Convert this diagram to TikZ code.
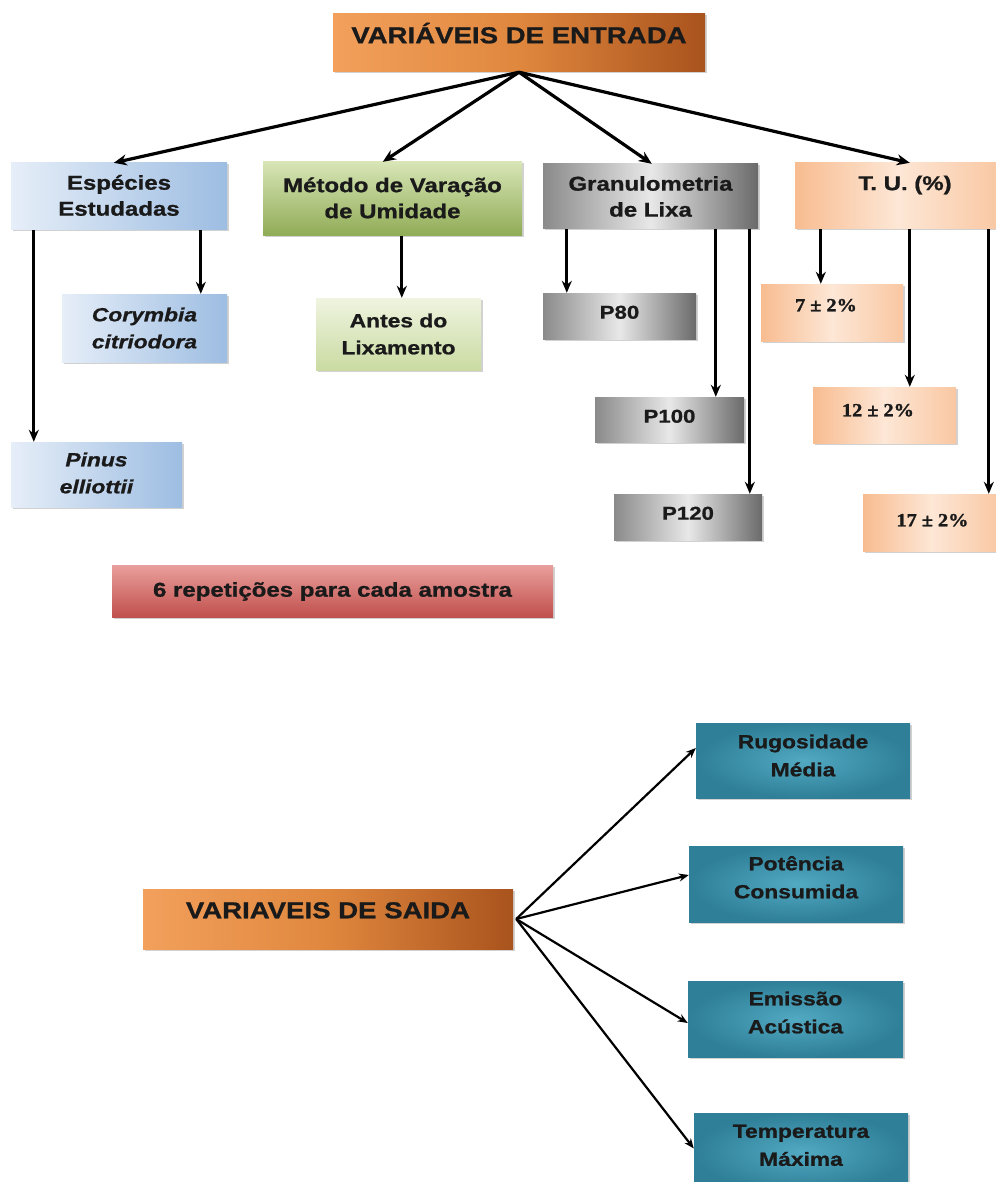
\documentclass[tikz,border=0pt]{standalone}
\usepackage{fontspec}
\setmainfont{Liberation Sans}[FakeStretch=1.2, BoldFeatures={FakeBold=1}, BoldItalicFeatures={FakeBold=1}]
\newfontfamily\pmfont{Liberation Serif}[FakeStretch=1.1, BoldFeatures={FakeBold=1.5}]
\usetikzlibrary{arrows.meta,shadows}
\definecolor{orL}{HTML}{F2A05C}
\definecolor{orM}{HTML}{E0873E}
\definecolor{orR}{HTML}{A9531D}
\definecolor{blL}{HTML}{E6EEF8}
\definecolor{blR}{HTML}{9DBDE2}
\definecolor{grT}{HTML}{D8E5B6}
\definecolor{grB}{HTML}{8FAB55}
\definecolor{glT}{HTML}{EFF4E0}
\definecolor{glB}{HTML}{CADBA2}
\definecolor{gyL}{HTML}{8A8A8A}
\definecolor{gyM}{HTML}{E8E8E8}
\definecolor{gyR}{HTML}{6A6A6A}
\definecolor{pkL}{HTML}{F8BC90}
\definecolor{pkM}{HTML}{FDE7D6}
\definecolor{pkR}{HTML}{F9C7A2}
\definecolor{rdT}{HTML}{E99F9C}
\definecolor{rdB}{HTML}{C0504D}
\definecolor{tlI}{HTML}{52A9C2}
\definecolor{tlO}{HTML}{2E7F97}
\definecolor{txt}{HTML}{1A1A1A}
\newcommand\myfTitle{\fontsize{23}{28}\selectfont\bfseries}
\newcommand\myfCat{\fontsize{20}{26}\selectfont\bfseries}
\newcommand\myfSub{\fontsize{19}{27}\selectfont\bfseries}
\newcommand\myfSubIt{\fontsize{19}{27}\selectfont\bfseries\itshape}
\newcommand\myfP{\fontsize{18.5}{24}\selectfont\bfseries}
\newcommand\myfPm{\fontsize{18.5}{22}\selectfont\pmfont\bfseries}
\newcommand\myfOut{\fontsize{19}{28}\selectfont\bfseries}
\newcommand\myfRep{\fontsize{20}{24}\selectfont\bfseries}
\begin{document}
\begin{tikzpicture}[x=1pt,y=-1pt,
  bx/.style={rectangle, inner sep=0pt, align=center, text=txt,
    drop shadow={shadow xshift=1.5pt, shadow yshift=-1.5pt, fill=black, opacity=0.18}},
  orbox/.style={bx, left color=orL, right color=orR, middle color=orM},
  bluebox/.style={bx, left color=blL, right color=blR},
  greenbox/.style={bx, top color=grT, bottom color=grB},
  greenlight/.style={bx, top color=glT, bottom color=glB},
  metalbox/.style={bx, left color=gyL, right color=gyR, middle color=gyM},
  peachbox/.style={bx, left color=pkL, right color=pkR, middle color=pkM},
  repbox/.style={bx, top color=rdT, bottom color=rdB},
  tealbox/.style={bx, inner color=tlI, outer color=tlO},
  arrbig/.style={draw=black, line width=3.2pt, -{Stealth[length=13pt,width=11pt]}},
  arr/.style={draw=black, line width=2.8pt, -{Stealth[length=12pt,width=10pt]}},
  arrsm/.style={draw=black, line width=2.2pt, -{Stealth[length=10pt,width=8pt]}}
]
\useasboundingbox[fill=white] (0,0) rectangle (995,1182);

% title
\node[orbox, minimum width=372pt, minimum height=58pt, font=\myfTitle,
  text height=16.5pt, text depth=16pt] (tit) at (519,43) {VARIÁVEIS DE ENTRADA};

% categories
\node[bluebox, minimum width=216pt, minimum height=67pt, font=\myfCat,
  text height=40.3pt, text depth=2pt] (esp) at (119,196.5) {Espécies\\Estudadas};
\node[greenbox, minimum width=259pt, minimum height=74pt, font=\myfCat,
  text height=40.3pt, text depth=2pt] (met) at (392.5,199) {Método de Varação\\de Umidade};
\node[metalbox, minimum width=215pt, minimum height=65pt, font=\myfCat,
  text height=40.3pt, text depth=0pt] (gra) at (650.5,196.5) {Granulometria\\de Lixa};
\node[peachbox, minimum width=206pt, minimum height=66pt, font=\myfCat,
  text height=14.3pt, text depth=26pt] (tu) at (898,196) {\hspace*{14pt}T. U. (\%)};

% species
\node[bluebox, minimum width=165pt, minimum height=68pt, font=\myfSubIt,
  text height=40.6pt, text depth=0pt] (cor) at (144.5,328) {Corymbia\\citriodora};
\node[bluebox, minimum width=171pt, minimum height=65pt, font=\myfSubIt,
  text height=40.6pt, text depth=3pt] (pin) at (96.5,474.5) {Pinus\\elliottii};

% method
\node[greenlight, minimum width=165pt, minimum height=72pt, font=\myfSub,
  text height=40.6pt, text depth=0pt] (ant) at (398.5,334) {Antes do\\Lixamento};

% sandpaper
\node[metalbox, minimum width=153pt, minimum height=46pt, font=\myfP,
  text height=13.3pt, text depth=8pt] (p80) at (619.5,316) {P80};
\node[metalbox, minimum width=149pt, minimum height=45pt, font=\myfP,
  text height=13.3pt, text depth=7pt] (p100) at (669.5,419.5) {P100};
\node[metalbox, minimum width=148pt, minimum height=46pt, font=\myfP,
  text height=13.3pt, text depth=8pt] (p120) at (688,517) {P120};

% moisture
\node[peachbox, minimum width=142pt, minimum height=57pt, font=\myfPm,
  text height=12.5pt, text depth=15pt] (t7) at (832,312.5) {\hspace*{-12pt}7\hspace{5pt}±\hspace{5pt}2\%};
\node[peachbox, minimum width=143pt, minimum height=56pt, font=\myfPm,
  text height=12.5pt, text depth=10pt] (t12) at (884.5,415) {\hspace*{-13pt}12\hspace{5pt}±\hspace{5pt}2\%};
\node[peachbox, minimum width=137pt, minimum height=57pt, font=\myfPm,
  text height=12.5pt, text depth=5pt] (t17) at (931.5,522.5) {\hspace*{2pt}17\hspace{5pt}±\hspace{5pt}2\%};

% repetitions
\node[repbox, minimum width=441pt, minimum height=52pt, font=\myfRep,
  text height=14.3pt, text depth=3pt] (rep) at (332.5,591) {6 repetições para cada amostra};

% outputs
\node[orbox, minimum width=370pt, minimum height=60pt, font=\myfTitle,
  text height=16.5pt, text depth=18pt] (sai) at (328,919) {VARIAVEIS DE SAIDA};
\node[tealbox, minimum width=214pt, minimum height=75pt, font=\myfOut,
  text height=41.6pt, text depth=10pt] (rug) at (803,760.5) {Rugosidade\\Média};
\node[tealbox, minimum width=214pt, minimum height=76pt, font=\myfOut,
  text height=41.6pt, text depth=13pt] (pot) at (796,884) {Potência\\Consumida};
\node[tealbox, minimum width=215pt, minimum height=76pt, font=\myfOut,
  text height=41.6pt, text depth=13pt] (emi) at (795.5,1019) {Emissão\\Acústica};
\node[tealbox, minimum width=214pt, minimum height=78pt, font=\myfOut,
  text height=41.6pt, text depth=14pt] (tem) at (801,1152) {Temperatura\\Máxima};

% title arrows
\draw[arrbig] (tit.south) -- ([xshift=103pt]esp.north west);
\draw[arrbig] (tit.south) -- ([xshift=120pt]met.north west);
\draw[arrbig] (tit.south) -- ([xshift=109pt]gra.north west);
\draw[arrbig] (tit.south) -- ([xshift=115pt]tu.north west);

% vertical arrows
\draw[arr] ([xshift=190pt]esp.south west) coordinate (e1) -- (e1 |- cor.north);
\draw[arr] ([xshift=23pt]esp.south west) coordinate (e2) -- (e2 |- pin.north);
\draw[arr] ([xshift=139pt]met.south west) coordinate (m1) -- (m1 |- ant.north);
\draw[arr] ([xshift=24pt]gra.south west) coordinate (g1) -- (g1 |- p80.north);
\draw[arr] ([xshift=173pt]gra.south west) coordinate (g2) -- (g2 |- p100.north);
\draw[arr] ([xshift=207pt]gra.south west) coordinate (g3) -- (g3 |- p120.north);
\draw[arr] ([xshift=26pt]tu.south west) coordinate (u1) -- (u1 |- t7.north);
\draw[arr] ([xshift=115pt]tu.south west) coordinate (u2) -- (u2 |- t12.north);
\draw[arr] ([xshift=194pt]tu.south west) coordinate (u3) -- (u3 |- t17.north);

% output arrows
\draw[arrsm] ([xshift=3pt]sai.east) -- ([yshift=12.5pt]rug.west);
\draw[arrsm] ([xshift=3pt]sai.east) -- ([yshift=9pt]pot.west);
\draw[arrsm] ([xshift=3pt]sai.east) -- ([yshift=-4pt]emi.west);
\draw[arrsm] ([xshift=3pt]sai.east) -- ([yshift=3.5pt]tem.west);
\end{tikzpicture}
\end{document}
